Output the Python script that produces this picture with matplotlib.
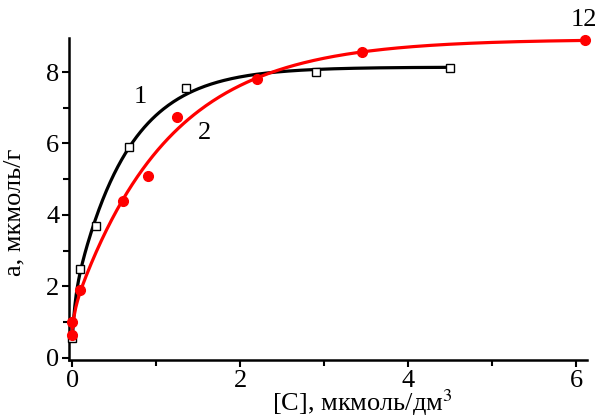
import matplotlib
matplotlib.use('Agg')
import matplotlib.pyplot as plt
import numpy as np

plt.rcParams['font.family'] = ['Liberation Serif', 'DejaVu Serif']
plt.rcParams['mathtext.fontset'] = 'stix'

# series 1 (open squares)
c1 = np.array([0.0, 0.09, 0.28, 0.68, 1.35, 2.9, 4.5])
a1 = np.array([0.55, 2.5, 3.7, 5.9, 7.55, 8.0, 8.1])
# series 2 (red circles)
c2 = np.array([0.0, 0.0, 0.09, 0.6, 0.9, 1.25, 2.2, 3.45, 6.1])
a2 = np.array([0.65, 1.0, 1.9, 4.4, 5.1, 6.75, 7.8, 8.55, 8.9])

curve_labels = ['1', '2', '12']


def fit_two_exp(c, a):
    # two saturating exponentials + offset, grid over rates, lstsq for amplitudes
    best = None
    ks = np.logspace(-1, 1.5, 80)
    for i, k1 in enumerate(ks):
        for k2 in ks[i + 1:]:
            M = np.column_stack([np.ones_like(c), 1 - np.exp(-k1 * c), 1 - np.exp(-k2 * c)])
            coef, *_ = np.linalg.lstsq(M, a, rcond=None)
            if np.any(coef[1:] < 0):
                continue
            err = np.sum((M @ coef - a) ** 2)
            if best is None or err < best[0]:
                best = (err, k1, k2, coef)
    _, k1, k2, coef = best
    return lambda x: coef[0] + coef[1] * (1 - np.exp(-k1 * x)) + coef[2] * (1 - np.exp(-k2 * x))


f1 = fit_two_exp(c1, a1)
f2 = fit_two_exp(c2, a2)

fig = plt.figure(figsize=(6.01, 4.17), dpi=100)
ax = fig.add_axes([0.1148, 0.1367, 0.862, 0.772])

x1 = np.linspace(0, c1.max(), 300)
x2 = np.linspace(0, c2.max(), 300)
ax.plot(x1, f1(x1), color='black', lw=2.3, zorder=2)
ax.plot(x2, f2(x2), color='red', lw=2.3, zorder=3)
ax.plot(c1, a1, 's', mfc='white', mec='black', mew=1.0, ms=6, zorder=4, clip_on=False)
ax.plot(c2, a2, 'o', color='red', ms=7, zorder=5, clip_on=False)

ax.text(0.81, 7.3, curve_labels[0], fontsize=19, ha='center', va='center')
ax.text(1.57, 6.3, curve_labels[1], fontsize=19, ha='center', va='center')
ax.text(6.09, 9.45, curve_labels[2], fontsize=19, ha='center', va='center', clip_on=False)

ax.set_xlim(-0.04, 6.13)
ax.set_ylim(-0.06, 8.95)
ax.set_xticks([0, 2, 4, 6])
ax.set_xticks([1, 3, 5], minor=True)
ax.set_yticks([0, 2, 4, 6, 8])
ax.set_yticks([1, 3, 5, 7], minor=True)
ax.tick_params(which='both', direction='out', width=1.5, labelsize=19)
ax.tick_params(which='major', length=5)
ax.tick_params(which='minor', length=4)
ax.tick_params(axis='x', pad=2)
ax.tick_params(axis='y', pad=2)

for s in ['top', 'right']:
    ax.spines[s].set_visible(False)
for s in ['left', 'bottom']:
    ax.spines[s].set_linewidth(1.8)

ax.set_ylabel('a, мкмоль/г', fontsize=19)
ax.yaxis.set_label_coords(-0.085, 0.46)
ax.set_xlabel('[C], мкмоль/дм$^{3}$', fontsize=19)
ax.xaxis.set_label_coords(0.566, -0.085)
ax.xaxis.label.set_va('top')

fig.savefig('out.png', dpi=100)
